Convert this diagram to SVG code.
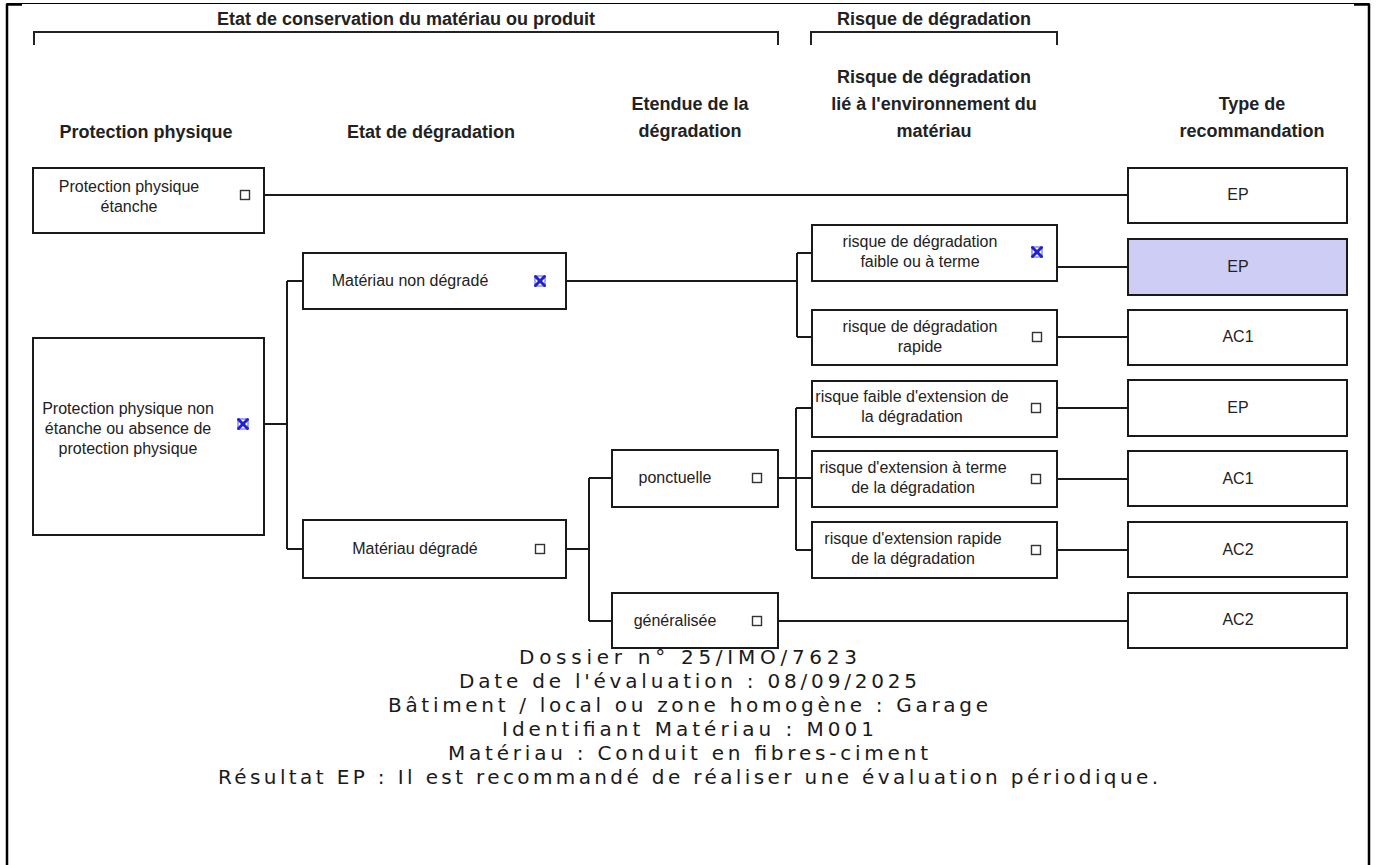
<svg xmlns="http://www.w3.org/2000/svg" width="1376" height="865" viewBox="0 0 1376 865">
<style>
.bg{fill:#fff}
.frame{stroke:#000;stroke-width:2.5;fill:none}
.thin{stroke:#000;stroke-width:1;fill:none}
.br{stroke:#222;stroke-width:2;fill:none}
.hd{font-family:"Liberation Sans",Arial,sans-serif;font-weight:bold;font-size:18px;fill:#222;text-anchor:middle}
.box{fill:#fff;stroke:#1a1a1a;stroke-width:2}
.hl{fill:#cdcdf6;stroke:#1a1a1a;stroke-width:2}
.tx{font-family:"Liberation Sans",Arial,sans-serif;font-size:16px;fill:#222;text-anchor:middle}
.cb{fill:none;stroke:#333;stroke-width:1.4}
.xm{stroke:#2222cc;stroke-width:3;stroke-linecap:round}
.xb{fill:none;stroke:#5555dd;stroke-width:1}
.ln{stroke:#1a1a1a;stroke-width:2;fill:none}
.ft{font-family:"DejaVu Sans","Open Sans",sans-serif;font-size:20px;fill:#1a1a1a;text-anchor:middle}
</style>
<defs>
<g id="chk"><rect class="cb" x="-4.5" y="-4.5" width="9" height="9"/></g>
<g id="xmk"><rect class="xb" x="-5" y="-5" width="10" height="10"/><line class="xm" x1="-4.5" y1="-4.5" x2="4.5" y2="4.5"/><line class="xm" x1="4.5" y1="-4.5" x2="-4.5" y2="4.5"/></g>
</defs>
<rect class="bg" x="0" y="0" width="1376" height="865"/>
<g id="frame">
<line class="thin" x1="7" y1="3.5" x2="1369" y2="3.5"/>
<line class="frame" x1="7" y1="4" x2="7" y2="865"/>
<line class="frame" x1="1369" y1="4" x2="1369" y2="865"/>
<line class="frame" x1="6" y1="4.5" x2="22" y2="4.5"/>
<line class="frame" x1="1354" y1="4.5" x2="1370" y2="4.5"/>
</g>
<g id="headers">
<path class="br" d="M34,45 V32 H778 V45"/>
<path class="br" d="M811,45 V32 H1057 V45"/>
<text class="hd" x="406" y="25">Etat de conservation du matériau ou produit</text>
<text class="hd" x="934" y="25">Risque de dégradation</text>
<text class="hd" x="146" y="138">Protection physique</text>
<text class="hd" x="431" y="138">Etat de dégradation</text>
<text class="hd" x="690" y="110">Etendue de la</text>
<text class="hd" x="690" y="137">dégradation</text>
<text class="hd" x="934" y="83">Risque de dégradation</text>
<text class="hd" x="934" y="110">lié à l'environnement du</text>
<text class="hd" x="934" y="137">matériau</text>
<text class="hd" x="1252" y="110">Type de</text>
<text class="hd" x="1252" y="137">recommandation</text>
</g>
<g id="connectors">
<path class="ln" d="M264,195 H1128"/>
<path class="ln" d="M264,424 H287 M287,281 V549 M287,281 H303 M287,549 H303"/>
<path class="ln" d="M566,281 H797 M797,253 V337 M797,253 H812 M797,337 H812"/>
<path class="ln" d="M1057,267 H1128 M1057,337 H1128"/>
<path class="ln" d="M566,549 H589 M589,478 V621 M589,478 H612 M589,621 H612"/>
<path class="ln" d="M778,478 H812 M796,408 V550 M796,408 H812 M796,550 H812"/>
<path class="ln" d="M1057,408 H1128 M1057,479 H1128 M1057,550 H1128"/>
<path class="ln" d="M778,621 H1128"/>
</g>
<g id="n-pp-etanche">
<rect class="box" x="33" y="168" width="231" height="65"/>
<text class="tx" x="129" y="192">Protection physique</text>
<text class="tx" x="129" y="212">étanche</text>
<use href="#chk" x="245" y="195"/>
</g>
<g id="n-pp-non-etanche">
<rect class="box" x="33" y="338" width="231" height="197"/>
<text class="tx" x="128" y="414">Protection physique non</text>
<text class="tx" x="128" y="434">étanche ou absence de</text>
<text class="tx" x="128" y="454">protection physique</text>
<use href="#xmk" x="243" y="424"/>
</g>
<g id="n-non-degrade">
<rect class="box" x="303" y="253" width="263" height="56"/>
<text class="tx" x="410" y="286">Matériau non dégradé</text>
<use href="#xmk" x="540" y="281"/>
</g>
<g id="n-degrade">
<rect class="box" x="303" y="520" width="263" height="58"/>
<text class="tx" x="415" y="554">Matériau dégradé</text>
<use href="#chk" x="540" y="549"/>
</g>
<g id="n-ponctuelle">
<rect class="box" x="612" y="450" width="166" height="57"/>
<text class="tx" x="675" y="483">ponctuelle</text>
<use href="#chk" x="757" y="478"/>
</g>
<g id="n-generalisee">
<rect class="box" x="612" y="593" width="166" height="55"/>
<text class="tx" x="675" y="626">généralisée</text>
<use href="#chk" x="757" y="621"/>
</g>
<g id="n-faible">
<rect class="box" x="812" y="225" width="245" height="56"/>
<text class="tx" x="920" y="247">risque de dégradation</text>
<text class="tx" x="920" y="267">faible ou à terme</text>
<use href="#xmk" x="1037" y="252"/>
</g>
<g id="n-rapide">
<rect class="box" x="812" y="310" width="245" height="55"/>
<text class="tx" x="920" y="332">risque de dégradation</text>
<text class="tx" x="920" y="352">rapide</text>
<use href="#chk" x="1037" y="337"/>
</g>
<g id="n-ext-faible">
<rect class="box" x="812" y="381" width="245" height="56"/>
<text class="tx" x="912" y="402">risque faible d'extension de</text>
<text class="tx" x="912" y="422">la dégradation</text>
<use href="#chk" x="1036" y="408"/>
</g>
<g id="n-ext-terme">
<rect class="box" x="812" y="451" width="245" height="56"/>
<text class="tx" x="913" y="473">risque d'extension à terme</text>
<text class="tx" x="913" y="493">de la dégradation</text>
<use href="#chk" x="1036" y="479"/>
</g>
<g id="n-ext-rapide">
<rect class="box" x="812" y="522" width="245" height="56"/>
<text class="tx" x="913" y="544">risque d'extension rapide</text>
<text class="tx" x="913" y="564">de la dégradation</text>
<use href="#chk" x="1036" y="550"/>
</g>
<g id="t1"><rect class="box" x="1128" y="168" width="219" height="55"/><text class="tx" x="1238" y="200">EP</text></g>
<g id="t2"><rect class="hl" x="1128" y="239" width="219" height="56"/><text class="tx" x="1238" y="272">EP</text></g>
<g id="t3"><rect class="box" x="1128" y="310" width="219" height="55"/><text class="tx" x="1238" y="342">AC1</text></g>
<g id="t4"><rect class="box" x="1128" y="380" width="219" height="56"/><text class="tx" x="1238" y="413">EP</text></g>
<g id="t5"><rect class="box" x="1128" y="451" width="219" height="55"/><text class="tx" x="1238" y="484">AC1</text></g>
<g id="t6"><rect class="box" x="1128" y="522" width="219" height="55"/><text class="tx" x="1238" y="555">AC2</text></g>
<g id="t7"><rect class="box" x="1128" y="593" width="219" height="55"/><text class="tx" x="1238" y="625">AC2</text></g>
<g id="footer">
<text class="ft" x="688" y="664" textLength="338" lengthAdjust="spacing">Dossier n° 25/IMO/7623</text>
<text class="ft" x="688" y="688" textLength="458" lengthAdjust="spacing">Date de l'évaluation : 08/09/2025</text>
<text class="ft" x="688" y="712" textLength="600" lengthAdjust="spacing">Bâtiment / local ou zone homogène : Garage</text>
<text class="ft" x="688" y="736" textLength="372" lengthAdjust="spacing">Identifiant Matériau : M001</text>
<text class="ft" x="688" y="760" textLength="480" lengthAdjust="spacing">Matériau : Conduit en fibres-ciment</text>
<text class="ft" x="688" y="784" textLength="940" lengthAdjust="spacing">Résultat EP : Il est recommandé de réaliser une évaluation périodique.</text>
</g>
</svg>
